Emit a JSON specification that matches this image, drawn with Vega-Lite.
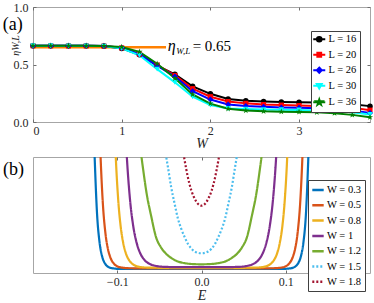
{
"$schema": "https://vega.github.io/schema/vega-lite/v6.json",
"padding": {"left": 2, "top": 0, "right": 2, "bottom": 0},
"bounds": "flush",
"spacing": 35,
"resolve": {"scale": {"color": "independent", "strokeDash": "independent"}, "legend": {"color": "independent", "strokeDash": "independent"}},
"config": {
  "concat": {"spacing": 35},
  "view": {"stroke": "#a6a6a6", "strokeWidth": 1},
  "axis": {"grid": false, "domain": false, "labelFont": "Liberation Serif", "labelFontSize": 12, "labelColor": "#262626", "titleFont": "Liberation Serif", "titleFontStyle": "italic", "titleFontWeight": "normal", "titleFontSize": 14, "titleColor": "#262626", "tickColor": "#6e6e6e", "tickSize": -3, "tickWidth": 1, "labelPadding": 8},
  "axisBottom": {"labelPadding": 6},
  "legend": {"labelFont": "Liberation Serif"},
  "text": {"font": "Liberation Serif"}
},
"datasets": {
"a": [
{"L":"L = 16","W":0,"eta":0.663},{"L":"L = 16","W":0.2,"eta":0.663},{"L":"L = 16","W":0.4,"eta":0.662},{"L":"L = 16","W":0.6,"eta":0.662},{"L":"L = 16","W":0.8,"eta":0.66},{"L":"L = 16","W":1,"eta":0.64},{"L":"L = 16","W":1.2,"eta":0.585},{"L":"L = 16","W":1.4,"eta":0.49},{"L":"L = 16","W":1.6,"eta":0.415},{"L":"L = 16","W":1.8,"eta":0.31},{"L":"L = 16","W":2,"eta":0.245},{"L":"L = 16","W":2.2,"eta":0.2},{"L":"L = 16","W":2.4,"eta":0.185},{"L":"L = 16","W":2.6,"eta":0.178},{"L":"L = 16","W":2.8,"eta":0.174},{"L":"L = 16","W":3,"eta":0.172},{"L":"L = 16","W":3.2,"eta":0.17},{"L":"L = 16","W":3.4,"eta":0.165},{"L":"L = 16","W":3.6,"eta":0.155},{"L":"L = 16","W":3.8,"eta":0.138},
{"L":"L = 20","W":0,"eta":0.663},{"L":"L = 20","W":0.2,"eta":0.663},{"L":"L = 20","W":0.4,"eta":0.662},{"L":"L = 20","W":0.6,"eta":0.662},{"L":"L = 20","W":0.8,"eta":0.66},{"L":"L = 20","W":1,"eta":0.645},{"L":"L = 20","W":1.2,"eta":0.59},{"L":"L = 20","W":1.4,"eta":0.495},{"L":"L = 20","W":1.6,"eta":0.405},{"L":"L = 20","W":1.8,"eta":0.29},{"L":"L = 20","W":2,"eta":0.22},{"L":"L = 20","W":2.2,"eta":0.178},{"L":"L = 20","W":2.4,"eta":0.162},{"L":"L = 20","W":2.6,"eta":0.152},{"L":"L = 20","W":2.8,"eta":0.147},{"L":"L = 20","W":3,"eta":0.143},{"L":"L = 20","W":3.2,"eta":0.14},{"L":"L = 20","W":3.4,"eta":0.135},{"L":"L = 20","W":3.6,"eta":0.125},{"L":"L = 20","W":3.8,"eta":0.103},
{"L":"L = 26","W":0,"eta":0.663},{"L":"L = 26","W":0.2,"eta":0.663},{"L":"L = 26","W":0.4,"eta":0.662},{"L":"L = 26","W":0.6,"eta":0.662},{"L":"L = 26","W":0.8,"eta":0.66},{"L":"L = 26","W":1,"eta":0.645},{"L":"L = 26","W":1.2,"eta":0.59},{"L":"L = 26","W":1.4,"eta":0.49},{"L":"L = 26","W":1.6,"eta":0.395},{"L":"L = 26","W":1.8,"eta":0.268},{"L":"L = 26","W":2,"eta":0.195},{"L":"L = 26","W":2.2,"eta":0.152},{"L":"L = 26","W":2.4,"eta":0.14},{"L":"L = 26","W":2.6,"eta":0.132},{"L":"L = 26","W":2.8,"eta":0.127},{"L":"L = 26","W":3,"eta":0.123},{"L":"L = 26","W":3.2,"eta":0.12},{"L":"L = 26","W":3.4,"eta":0.113},{"L":"L = 26","W":3.6,"eta":0.1},{"L":"L = 26","W":3.8,"eta":0.078},
{"L":"L = 30","W":0,"eta":0.663},{"L":"L = 30","W":0.2,"eta":0.663},{"L":"L = 30","W":0.4,"eta":0.662},{"L":"L = 30","W":0.6,"eta":0.662},{"L":"L = 30","W":0.8,"eta":0.66},{"L":"L = 30","W":1,"eta":0.64},{"L":"L = 30","W":1.2,"eta":0.58},{"L":"L = 30","W":1.4,"eta":0.46},{"L":"L = 30","W":1.6,"eta":0.345},{"L":"L = 30","W":1.8,"eta":0.22},{"L":"L = 30","W":2,"eta":0.148},{"L":"L = 30","W":2.2,"eta":0.118},{"L":"L = 30","W":2.4,"eta":0.112},{"L":"L = 30","W":2.6,"eta":0.108},{"L":"L = 30","W":2.8,"eta":0.106},{"L":"L = 30","W":3,"eta":0.104},{"L":"L = 30","W":3.2,"eta":0.1},{"L":"L = 30","W":3.4,"eta":0.095},{"L":"L = 30","W":3.6,"eta":0.085},{"L":"L = 30","W":3.8,"eta":0.065},
{"L":"L = 36","W":0,"eta":0.663},{"L":"L = 36","W":0.2,"eta":0.663},{"L":"L = 36","W":0.4,"eta":0.662},{"L":"L = 36","W":0.6,"eta":0.662},{"L":"L = 36","W":0.8,"eta":0.66},{"L":"L = 36","W":1,"eta":0.652},{"L":"L = 36","W":1.2,"eta":0.61},{"L":"L = 36","W":1.4,"eta":0.507},{"L":"L = 36","W":1.6,"eta":0.38},{"L":"L = 36","W":1.8,"eta":0.24},{"L":"L = 36","W":2,"eta":0.16},{"L":"L = 36","W":2.2,"eta":0.115},{"L":"L = 36","W":2.4,"eta":0.1},{"L":"L = 36","W":2.6,"eta":0.093},{"L":"L = 36","W":2.8,"eta":0.09},{"L":"L = 36","W":3,"eta":0.088},{"L":"L = 36","W":3.2,"eta":0.085},{"L":"L = 36","W":3.4,"eta":0.077},{"L":"L = 36","W":3.6,"eta":0.062},{"L":"L = 36","W":3.8,"eta":0.042}
],
"b": [
{"W":"W = 0.3","E":-0.131,"r":2.0},{"W":"W = 0.3","E":-0.127,"r":1.035},{"W":"W = 0.3","E":-0.124,"r":0.513},{"W":"W = 0.3","E":-0.121,"r":0.264},{"W":"W = 0.3","E":-0.118,"r":0.144},{"W":"W = 0.3","E":-0.115,"r":0.087},{"W":"W = 0.3","E":-0.112,"r":0.06},{"W":"W = 0.3","E":-0.108,"r":0.044},{"W":"W = 0.3","E":-0.104,"r":0.039},{"W":"W = 0.3","E":-0.1,"r":0.036},{"W":"W = 0.3","E":-0.09,"r":0.035},{"W":"W = 0.3","E":-0.05,"r":0.035},{"W":"W = 0.3","E":0,"r":0.035},{"W":"W = 0.3","E":0.05,"r":0.035},{"W":"W = 0.3","E":0.09,"r":0.035},{"W":"W = 0.3","E":0.1,"r":0.036},{"W":"W = 0.3","E":0.104,"r":0.039},{"W":"W = 0.3","E":0.108,"r":0.044},{"W":"W = 0.3","E":0.112,"r":0.06},{"W":"W = 0.3","E":0.115,"r":0.087},{"W":"W = 0.3","E":0.118,"r":0.144},{"W":"W = 0.3","E":0.121,"r":0.264},{"W":"W = 0.3","E":0.124,"r":0.513},{"W":"W = 0.3","E":0.127,"r":1.035},{"W":"W = 0.3","E":0.131,"r":2.0},
{"W":"W = 0.5","E":-0.124,"r":2.0},{"W":"W = 0.5","E":-0.12,"r":1.04},{"W":"W = 0.5","E":-0.117,"r":0.589},{"W":"W = 0.5","E":-0.114,"r":0.341},{"W":"W = 0.5","E":-0.111,"r":0.205},{"W":"W = 0.5","E":-0.108,"r":0.131},{"W":"W = 0.5","E":-0.104,"r":0.081},{"W":"W = 0.5","E":-0.1,"r":0.058},{"W":"W = 0.5","E":-0.095,"r":0.047},{"W":"W = 0.5","E":-0.085,"r":0.041},{"W":"W = 0.5","E":-0.06,"r":0.04},{"W":"W = 0.5","E":0,"r":0.04},{"W":"W = 0.5","E":0.06,"r":0.04},{"W":"W = 0.5","E":0.085,"r":0.041},{"W":"W = 0.5","E":0.095,"r":0.047},{"W":"W = 0.5","E":0.1,"r":0.058},{"W":"W = 0.5","E":0.104,"r":0.081},{"W":"W = 0.5","E":0.108,"r":0.131},{"W":"W = 0.5","E":0.111,"r":0.205},{"W":"W = 0.5","E":0.114,"r":0.341},{"W":"W = 0.5","E":0.117,"r":0.589},{"W":"W = 0.5","E":0.12,"r":1.04},{"W":"W = 0.5","E":0.124,"r":2.0},
{"W":"W = 0.8","E":-0.106,"r":2.0},{"W":"W = 0.8","E":-0.102,"r":1.045},{"W":"W = 0.8","E":-0.099,"r":0.645},{"W":"W = 0.8","E":-0.096,"r":0.405},{"W":"W = 0.8","E":-0.093,"r":0.262},{"W":"W = 0.8","E":-0.09,"r":0.175},{"W":"W = 0.8","E":-0.086,"r":0.111},{"W":"W = 0.8","E":-0.082,"r":0.078},{"W":"W = 0.8","E":-0.077,"r":0.059},{"W":"W = 0.8","E":-0.07,"r":0.049},{"W":"W = 0.8","E":-0.06,"r":0.046},{"W":"W = 0.8","E":-0.05,"r":0.045},{"W":"W = 0.8","E":0,"r":0.045},{"W":"W = 0.8","E":0.05,"r":0.045},{"W":"W = 0.8","E":0.06,"r":0.046},{"W":"W = 0.8","E":0.07,"r":0.049},{"W":"W = 0.8","E":0.077,"r":0.059},{"W":"W = 0.8","E":0.082,"r":0.078},{"W":"W = 0.8","E":0.086,"r":0.111},{"W":"W = 0.8","E":0.09,"r":0.175},{"W":"W = 0.8","E":0.093,"r":0.262},{"W":"W = 0.8","E":0.096,"r":0.405},{"W":"W = 0.8","E":0.099,"r":0.645},{"W":"W = 0.8","E":0.102,"r":1.045},{"W":"W = 0.8","E":0.106,"r":2.0},
{"W":"W = 1","E":-0.093,"r":1.7},{"W":"W = 1","E":-0.089,"r":1.05},{"W":"W = 1","E":-0.085,"r":0.644},{"W":"W = 1","E":-0.081,"r":0.403},{"W":"W = 1","E":-0.077,"r":0.26},{"W":"W = 1","E":-0.073,"r":0.175},{"W":"W = 1","E":-0.068,"r":0.115},{"W":"W = 1","E":-0.063,"r":0.084},{"W":"W = 1","E":-0.057,"r":0.066},{"W":"W = 1","E":-0.05,"r":0.056},{"W":"W = 1","E":-0.04,"r":0.052},{"W":"W = 1","E":-0.03,"r":0.05},{"W":"W = 1","E":0,"r":0.05},{"W":"W = 1","E":0.03,"r":0.05},{"W":"W = 1","E":0.04,"r":0.052},{"W":"W = 1","E":0.05,"r":0.056},{"W":"W = 1","E":0.057,"r":0.066},{"W":"W = 1","E":0.063,"r":0.084},{"W":"W = 1","E":0.068,"r":0.115},{"W":"W = 1","E":0.073,"r":0.175},{"W":"W = 1","E":0.077,"r":0.26},{"W":"W = 1","E":0.081,"r":0.403},{"W":"W = 1","E":0.085,"r":0.644},{"W":"W = 1","E":0.089,"r":1.05},{"W":"W = 1","E":0.093,"r":1.7},
{"W":"W = 1.2","E":-0.076,"r":1.4},{"W":"W = 1.2","E":-0.072,"r":1.05},{"W":"W = 1.2","E":-0.069,"r":0.88},{"W":"W = 1.2","E":-0.065,"r":0.68},{"W":"W = 1.2","E":-0.06,"r":0.5},{"W":"W = 1.2","E":-0.054,"r":0.31},{"W":"W = 1.2","E":-0.048,"r":0.22},{"W":"W = 1.2","E":-0.042,"r":0.165},{"W":"W = 1.2","E":-0.036,"r":0.13},{"W":"W = 1.2","E":-0.03,"r":0.105},{"W":"W = 1.2","E":-0.02,"r":0.085},{"W":"W = 1.2","E":-0.01,"r":0.077},{"W":"W = 1.2","E":0,"r":0.075},{"W":"W = 1.2","E":0.01,"r":0.077},{"W":"W = 1.2","E":0.02,"r":0.085},{"W":"W = 1.2","E":0.03,"r":0.105},{"W":"W = 1.2","E":0.036,"r":0.13},{"W":"W = 1.2","E":0.042,"r":0.165},{"W":"W = 1.2","E":0.048,"r":0.22},{"W":"W = 1.2","E":0.054,"r":0.31},{"W":"W = 1.2","E":0.06,"r":0.5},{"W":"W = 1.2","E":0.065,"r":0.68},{"W":"W = 1.2","E":0.069,"r":0.88},{"W":"W = 1.2","E":0.072,"r":1.05},{"W":"W = 1.2","E":0.076,"r":1.4},
{"W":"W = 1.5","E":-0.046,"r":1.2},{"W":"W = 1.5","E":-0.043,"r":1.05},{"W":"W = 1.5","E":-0.04,"r":0.92},{"W":"W = 1.5","E":-0.036,"r":0.74},{"W":"W = 1.5","E":-0.032,"r":0.6},{"W":"W = 1.5","E":-0.028,"r":0.47},{"W":"W = 1.5","E":-0.024,"r":0.38},{"W":"W = 1.5","E":-0.02,"r":0.31},{"W":"W = 1.5","E":-0.016,"r":0.25},{"W":"W = 1.5","E":-0.012,"r":0.21},{"W":"W = 1.5","E":-0.008,"r":0.185},{"W":"W = 1.5","E":0,"r":0.17},{"W":"W = 1.5","E":0.008,"r":0.185},{"W":"W = 1.5","E":0.012,"r":0.21},{"W":"W = 1.5","E":0.016,"r":0.25},{"W":"W = 1.5","E":0.02,"r":0.31},{"W":"W = 1.5","E":0.024,"r":0.38},{"W":"W = 1.5","E":0.028,"r":0.47},{"W":"W = 1.5","E":0.032,"r":0.6},{"W":"W = 1.5","E":0.036,"r":0.74},{"W":"W = 1.5","E":0.04,"r":0.92},{"W":"W = 1.5","E":0.043,"r":1.05},{"W":"W = 1.5","E":0.046,"r":1.2},
{"W":"W = 1.8","E":-0.023,"r":1.1},{"W":"W = 1.8","E":-0.02,"r":0.97},{"W":"W = 1.8","E":-0.016,"r":0.82},{"W":"W = 1.8","E":-0.012,"r":0.71},{"W":"W = 1.8","E":-0.008,"r":0.64},{"W":"W = 1.8","E":-0.004,"r":0.595},{"W":"W = 1.8","E":0,"r":0.58},{"W":"W = 1.8","E":0.004,"r":0.595},{"W":"W = 1.8","E":0.008,"r":0.64},{"W":"W = 1.8","E":0.012,"r":0.71},{"W":"W = 1.8","E":0.016,"r":0.82},{"W":"W = 1.8","E":0.02,"r":0.97},{"W":"W = 1.8","E":0.023,"r":1.1}
]
},
"vconcat": [
{
  "width": 337, "height": 115,
  "layer": [
    {"data": {"values": [{}]}, "mark": {"type": "rule", "color": "#FF8000", "strokeWidth": 2.5},
     "encoding": {"x": {"datum": 0, "type": "quantitative", "scale": {"domain": [0, 3.8], "nice": false}, "axis": null}, "x2": {"datum": 1.5}, "y": {"datum": 0.65, "type": "quantitative", "scale": {"domain": [0, 1]}, "axis": null}}},
    {"data": {"name": "a"}, "mark": {"type": "line", "strokeWidth": 2},
     "encoding": {
       "x": {"field": "W", "type": "quantitative", "scale": {"domain": [0, 3.8], "nice": false}, "axis": {"orient": "bottom", "values": [0, 1, 2, 3], "title": "W", "titlePadding": 0}},
       "y": {"field": "eta", "type": "quantitative", "scale": {"domain": [0, 1]}, "axis": {"orient": "left", "values": [0, 0.5, 1], "title": "ηW,L", "titleFontSize": 10, "titleX": -18, "titleY": 38, "titleBaseline": "middle", "titleAlign": "center"}},
       "color": {"field": "L", "type": "nominal", "scale": {"domain": ["L = 16", "L = 20", "L = 26", "L = 30", "L = 36"], "range": ["#000000", "#FF0000", "#0000FF", "#00FFFF", "#008000"]},
         "legend": {"title": null, "orient": "none", "legendX": 278, "legendY": 24, "strokeColor": "#404040", "fillColor": "white", "padding": 3, "labelFont": "Liberation Serif", "labelFontSize": 10.5, "labelColor": "#000", "rowPadding": 2.5, "symbolSize": 64, "labelOffset": 4, "symbolStrokeWidth": 1.8,
           "encode": {"symbols": {"update": {
             "shape": {"signal": "datum.value === 'L = 16' ? 'M-1.5,0L1.5,0M0.6,0A0.6,0.6,0,1,1,-0.6,0A0.6,0.6,0,1,1,0.6,0Z' : datum.value === 'L = 20' ? 'M-1.5,0L1.5,0M-0.5,-0.5L0.5,-0.5L0.5,0.5L-0.5,0.5Z' : datum.value === 'L = 26' ? 'M-1.5,0L1.5,0M0,-0.7L0.65,0L0,0.7L-0.65,0Z' : datum.value === 'L = 30' ? 'M-1.5,0L1.5,0M-0.65,-0.45L0.65,-0.45L0,0.7Z' : 'M-1.5,0L1.5,0M0,-0.8L0.18,-0.25L0.76,-0.25L0.29,0.09L0.47,0.65L0,0.31L-0.47,0.65L-0.29,0.09L-0.76,-0.25L-0.18,-0.25Z'"},
             "stroke": {"signal": "datum.value === 'L = 16' ? '#000000' : datum.value === 'L = 20' ? '#FF0000' : datum.value === 'L = 26' ? '#0000FF' : datum.value === 'L = 30' ? '#00FFFF' : '#008000'"},
             "fill": {"signal": "datum.value === 'L = 16' ? '#000000' : datum.value === 'L = 20' ? '#FF0000' : datum.value === 'L = 26' ? '#0000FF' : datum.value === 'L = 30' ? '#00FFFF' : '#008000'"},
             "fillOpacity": {"value": 1},
             "strokeWidth": {"value": 1.8}
           }}}}}
     }},
    {"data": {"name": "a"}, "transform": [{"filter": "datum.L === 'L = 16'"}], "mark": {"type": "point", "filled": true, "shape": "circle", "size": 30, "color": "#000000", "opacity": 1},
     "encoding": {"x": {"field": "W", "type": "quantitative", "scale": {"domain": [0, 3.8], "nice": false}, "axis": null}, "y": {"field": "eta", "type": "quantitative", "scale": {"domain": [0, 1]}, "axis": null}}},
    {"data": {"name": "a"}, "transform": [{"filter": "datum.L === 'L = 20'"}], "mark": {"type": "point", "filled": true, "shape": "square", "size": 26, "color": "#FF0000", "opacity": 1},
     "encoding": {"x": {"field": "W", "type": "quantitative", "scale": {"domain": [0, 3.8], "nice": false}, "axis": null}, "y": {"field": "eta", "type": "quantitative", "scale": {"domain": [0, 1]}, "axis": null}}},
    {"data": {"name": "a"}, "transform": [{"filter": "datum.L === 'L = 26'"}], "mark": {"type": "point", "filled": true, "shape": "diamond", "size": 36, "color": "#0000FF", "opacity": 1},
     "encoding": {"x": {"field": "W", "type": "quantitative", "scale": {"domain": [0, 3.8], "nice": false}, "axis": null}, "y": {"field": "eta", "type": "quantitative", "scale": {"domain": [0, 1]}, "axis": null}}},
    {"data": {"name": "a"}, "transform": [{"filter": "datum.L === 'L = 30'"}], "mark": {"type": "point", "filled": true, "shape": "triangle-down", "size": 32, "color": "#00FFFF", "opacity": 1},
     "encoding": {"x": {"field": "W", "type": "quantitative", "scale": {"domain": [0, 3.8], "nice": false}, "axis": null}, "y": {"field": "eta", "type": "quantitative", "scale": {"domain": [0, 1]}, "axis": null}}},
    {"data": {"name": "a"}, "transform": [{"filter": "datum.L === 'L = 36'"}], "mark": {"type": "point", "filled": true, "shape": "M0,-1L0.2245,-0.309L0.951,-0.309L0.363,0.118L0.588,0.809L0,0.382L-0.588,0.809L-0.363,0.118L-0.951,-0.309L-0.2245,-0.309Z", "size": 44, "color": "#008000", "opacity": 1},
     "encoding": {"x": {"field": "W", "type": "quantitative", "scale": {"domain": [0, 3.8], "nice": false}, "axis": null}, "y": {"field": "eta", "type": "quantitative", "scale": {"domain": [0, 1]}, "axis": null}}},
    {"data": {"name": "a"}, "mark": {"type": "point", "opacity": 0},
     "encoding": {
       "x": {"field": "W", "type": "quantitative", "scale": {"domain": [0, 3.8], "nice": false}, "axis": {"orient": "top", "values": [0, 1, 2, 3], "labels": false, "title": null}},
       "y": {"field": "eta", "type": "quantitative", "scale": {"domain": [0, 1]}, "axis": {"orient": "right", "values": [0, 0.5, 1], "labels": false, "title": null}}
     }},
    {"data": {"values": [{}]}, "mark": {"type": "text", "text": "η", "fontSize": 16, "fontStyle": "italic", "align": "left", "baseline": "alphabetic"},
     "encoding": {"x": {"datum": 1.52, "axis": null}, "y": {"datum": 0.62, "axis": null}}},
    {"data": {"values": [{}]}, "mark": {"type": "text", "text": "W,L", "fontSize": 9, "fontStyle": "italic", "align": "left", "baseline": "alphabetic"},
     "encoding": {"x": {"datum": 1.615, "axis": null}, "y": {"datum": 0.595, "axis": null}}},
    {"data": {"values": [{}]}, "mark": {"type": "text", "text": "= 0.65", "fontSize": 15, "align": "left", "baseline": "alphabetic"},
     "encoding": {"x": {"datum": 1.8, "axis": null}, "y": {"datum": 0.62, "axis": null}}},
    {"data": {"values": [{}]}, "mark": {"type": "text", "text": "(a)", "fontSize": 18, "align": "left", "baseline": "alphabetic"},
     "encoding": {"x": {"datum": -0.34, "axis": null}, "y": {"datum": 0.8, "axis": null}}}
  ]
},
{
  "width": 337, "height": 116,
  "layer": [
    {"data": {"name": "b"}, "mark": {"type": "line", "strokeWidth": 2.2, "clip": true, "interpolate": "monotone"},
     "encoding": {
       "x": {"field": "E", "type": "quantitative", "scale": {"domain": [-0.2, 0.2], "nice": false, "zero": false}, "axis": {"orient": "bottom", "values": [-0.1, 0, 0.1], "title": "E", "titlePadding": 1}},
       "y": {"field": "r", "type": "quantitative", "scale": {"domain": [0, 1]}, "axis": {"orient": "left", "values": [0], "title": "ρ(E)", "titleFontSize": 12, "titleX": -20, "titleY": 53, "titleBaseline": "middle", "titleAlign": "center"}},
       "color": {"field": "W", "type": "nominal", "scale": {"domain": ["W = 0.3", "W = 0.5", "W = 0.8", "W = 1", "W = 1.2", "W = 1.5", "W = 1.8"], "range": ["#0072BD", "#D95319", "#EDB120", "#7E2F8E", "#77AC30", "#4DBEEE", "#A2142F"]},
         "legend": {"title": null, "orient": "none", "legendX": 275, "legendY": 23, "strokeColor": "#404040", "fillColor": "white", "padding": 3, "labelFont": "Liberation Serif", "labelFontSize": 10.5, "labelColor": "#000", "rowPadding": 2.3, "symbolType": "stroke", "symbolSize": 130, "symbolStrokeWidth": 2.5, "labelOffset": 2}},
       "strokeDash": {"field": "W", "type": "nominal", "scale": {"domain": ["W = 0.3", "W = 0.5", "W = 0.8", "W = 1", "W = 1.2", "W = 1.5", "W = 1.8"], "range": [[1, 0], [1, 0], [1, 0], [1, 0], [1, 0], [2, 2], [2, 2]]}}
     }},
    {"data": {"name": "b"}, "mark": {"type": "point", "opacity": 0},
     "encoding": {
       "x": {"field": "E", "type": "quantitative", "scale": {"domain": [-0.2, 0.2], "nice": false, "zero": false}, "axis": {"orient": "top", "values": [-0.1, 0, 0.1], "labels": false, "title": null}},
       "y": {"field": "r", "type": "quantitative", "scale": {"domain": [0, 1]}, "axis": null}
     }},
    {"data": {"values": [{}]}, "mark": {"type": "text", "text": "(b)", "fontSize": 18, "align": "left", "baseline": "alphabetic"},
     "encoding": {"x": {"datum": -0.2357, "axis": null}, "y": {"datum": 0.845, "axis": null}}}
  ]
}
]
}
